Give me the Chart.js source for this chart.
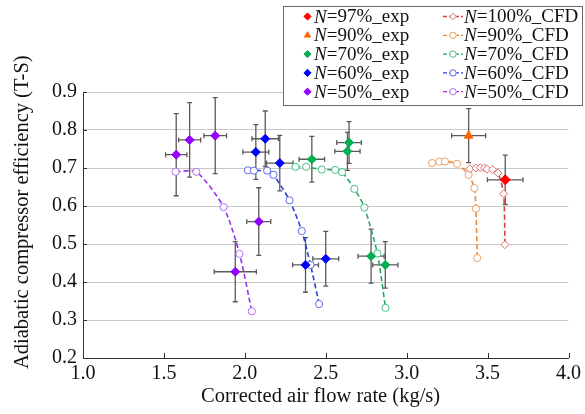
<!DOCTYPE html>
<html>
<head>
<meta charset="utf-8">
<script src="https://cdn.jsdelivr.net/npm/chart.js@4/dist/chart.umd.min.js"></script>
<style>
  html, body { margin: 0; padding: 0; background: #ffffff; }
  #wrap { width: 585px; height: 414px; position: relative; }
</style>
</head>
<body>
<div id="wrap"><canvas id="c" width="585" height="414"></canvas></div>
<script>
// ---------------- data ----------------
const xTickValues = [1.0, 1.5, 2.0, 2.5, 3.0, 3.5, 4.0];
const yTickValues = [0.2, 0.3, 0.4, 0.5, 0.6, 0.7, 0.8, 0.9];

// experimental points (value, with +/- error)
const exp97_x = [3.609];            const exp97_y = [0.669];
const exp97_xerr = [0.11];          const exp97_yerr = [0.065];
const exp90_x = [3.383];            const exp90_y = [0.785];
const exp90_xerr = [0.105];         const exp90_yerr = [0.071];
const exp70_x = [2.414, 2.644, 2.634, 2.780, 2.868];
const exp70_y = [0.723, 0.767, 0.744, 0.468, 0.445];
const exp70_xerr = [0.079, 0.076, 0.078, 0.081, 0.078];
const exp70_yerr = [0.060, 0.055, 0.050, 0.071, 0.061];
const exp60_x = [2.068, 2.126, 2.216, 2.375, 2.500];
const exp60_y = [0.742, 0.777, 0.713, 0.445, 0.461];
const exp60_xerr = [0.080, 0.082, 0.082, 0.080, 0.080];
const exp60_yerr = [0.072, 0.073, 0.073, 0.072, 0.072];
const exp50_x = [1.576, 1.659, 1.817, 2.086, 1.941];
const exp50_y = [0.735, 0.774, 0.785, 0.559, 0.427];
const exp50_xerr = [0.066, 0.068, 0.070, 0.074, 0.130];
const exp50_yerr = [0.108, 0.098, 0.100, 0.089, 0.079];

// CFD lines
const cfd100_x = [3.391, 3.428, 3.455, 3.481, 3.496, 3.531, 3.564, 3.599, 3.607];
const cfd100_y = [0.698, 0.700, 0.701, 0.700, 0.697, 0.696, 0.687, 0.632, 0.498];
const cfd90_x = [3.157, 3.202, 3.237, 3.311, 3.383, 3.418, 3.428, 3.436];
const cfd90_y = [0.713, 0.717, 0.717, 0.711, 0.682, 0.647, 0.593, 0.463];
const cfd70_x = [2.313, 2.379, 2.475, 2.558, 2.601, 2.677, 2.739, 2.819, 2.869];
const cfd70_y = [0.703, 0.703, 0.696, 0.695, 0.689, 0.645, 0.596, 0.475, 0.332];
const cfd60_x = [2.019, 2.056, 2.138, 2.177, 2.276, 2.352, 2.406, 2.459];
const cfd60_y = [0.694, 0.693, 0.693, 0.682, 0.615, 0.534, 0.445, 0.342];
const cfd50_x = [1.572, 1.700, 1.869, 1.967, 2.043];
const cfd50_y = [0.690, 0.690, 0.597, 0.474, 0.323];

const xTitle = 'Corrected air flow rate (kg/s)  ';
const yTitle = '     Adiabatic compressor efficiency (T-S)';

// ---------------- helpers ----------------
const FONT = "'Liberation Serif', 'Times New Roman', serif";
function pts(xs, ys) { return xs.map((x, i) => ({ x: x, y: ys[i] })); }

function expSet(label, xs, ys, xe, ye, color, style, r) {
  return {
    type: 'scatter', label: label, data: pts(xs, ys), errX: xe, errY: ye,
    pointStyle: style, pointRadius: r, pointHoverRadius: r,
    backgroundColor: color, borderColor: color, borderWidth: 1,
    showLine: false, order: 0, legendCol: 0
  };
}
function cfdSet(label, xs, ys, lineColor, ptColor, style, r) {
  return {
    type: 'line', label: label, data: pts(xs, ys),
    borderColor: lineColor, borderWidth: 1.6, borderDash: [5, 3],
    tension: 0.25, fill: false,
    pointStyle: style, pointRadius: r, pointHoverRadius: r,
    pointBackgroundColor: '#ffffff', pointBorderColor: ptColor, pointBorderWidth: 1,
    order: 1, legendCol: 1
  };
}

const datasets = [
  expSet('N=97%_exp', exp97_x, exp97_y, exp97_xerr, exp97_yerr, '#ff0000', 'rectRot', 5),
  expSet('N=90%_exp', exp90_x, exp90_y, exp90_xerr, exp90_yerr, '#ff6600', 'triangle', 5),
  expSet('N=70%_exp', exp70_x, exp70_y, exp70_xerr, exp70_yerr, '#00b050', 'rectRot', 4.5),
  expSet('N=60%_exp', exp60_x, exp60_y, exp60_xerr, exp60_yerr, '#0000ff', 'rectRot', 4.5),
  expSet('N=50%_exp', exp50_x, exp50_y, exp50_xerr, exp50_yerr, '#9400ff', 'rectRot', 4.5),
  cfdSet('N=100%_CFD', cfd100_x, cfd100_y, '#d83c3c', '#e07070', 'rectRot', 4),
  cfdSet('N=90%_CFD', cfd90_x, cfd90_y, '#e8883a', '#f0a060', 'circle', 3.6),
  cfdSet('N=70%_CFD', cfd70_x, cfd70_y, '#22aa60', '#45c083', 'circle', 3.6),
  cfdSet('N=60%_CFD', cfd60_x, cfd60_y, '#2a40d8', '#5a6ae6', 'circle', 3.6),
  cfdSet('N=50%_CFD', cfd50_x, cfd50_y, '#9a30e8', '#b070f0', 'circle', 3.6)
];

// error bars drawn through the chart scales
const errorBars = {
  id: 'errorBars',
  beforeDatasetsDraw(chart) {
    const ctx = chart.ctx, xs = chart.scales.x, ys = chart.scales.y;
    ctx.save();
    ctx.strokeStyle = '#5a5a5a';
    ctx.lineWidth = 1.3;
    const cap = 2.5;
    chart.data.datasets.forEach(ds => {
      if (!ds.errY) return;
      ds.data.forEach((p, i) => {
        const px = xs.getPixelForValue(p.x), py = ys.getPixelForValue(p.y);
        const x0 = xs.getPixelForValue(p.x - ds.errX[i]), x1 = xs.getPixelForValue(p.x + ds.errX[i]);
        const y0 = ys.getPixelForValue(p.y - ds.errY[i]), y1 = ys.getPixelForValue(p.y + ds.errY[i]);
        ctx.beginPath();
        ctx.moveTo(x0, py); ctx.lineTo(x1, py);
        ctx.moveTo(x0, py - cap); ctx.lineTo(x0, py + cap);
        ctx.moveTo(x1, py - cap); ctx.lineTo(x1, py + cap);
        ctx.moveTo(px, y0); ctx.lineTo(px, y1);
        ctx.moveTo(px - cap, y0); ctx.lineTo(px + cap, y0);
        ctx.moveTo(px - cap, y1); ctx.lineTo(px + cap, y1);
        ctx.stroke();
      });
    });
    ctx.restore();
  }
};

// inward tick marks on both axes
const innerTicks = {
  id: 'innerTicks',
  afterDraw(chart) {
    const ctx = chart.ctx, xs = chart.scales.x, ys = chart.scales.y, a = chart.chartArea;
    ctx.save();
    ctx.strokeStyle = '#333';
    ctx.lineWidth = 1;
    ctx.beginPath();
    xTickValues.forEach(v => {
      const px = Math.round(xs.getPixelForValue(v)) + 0.5;
      ctx.moveTo(px, a.bottom); ctx.lineTo(px, a.bottom - 5);
    });
    yTickValues.forEach(v => {
      const py = Math.round(ys.getPixelForValue(v)) + 0.5;
      ctx.moveTo(a.left, py); ctx.lineTo(a.left + 4, py);
    });
    ctx.stroke();
    ctx.restore();
  }
};

// legend box with italic "N"
const boxLegend = {
  id: 'boxLegend',
  afterDraw(chart) {
    const ctx = chart.ctx;
    ctx.save();
    ctx.strokeStyle = '#6a6a6a';
    ctx.lineWidth = 1;
    ctx.fillStyle = '#ffffff';
    ctx.fillRect(283.5, 6.5, 299, 99);
    ctx.strokeRect(283.5, 6.5, 299, 99);
    const rows = [0, 0];
    chart.data.datasets.forEach(ds => {
      const col = ds.legendCol;
      const y = 16.5 + rows[col] * 18.8;
      rows[col]++;
      let tx;
      if (col === 0) {
        ctx.fillStyle = ds.backgroundColor; ctx.strokeStyle = ds.borderColor;
        Chart.helpers.drawPoint(ctx, { pointStyle: ds.pointStyle, radius: 3.6, rotation: 0, borderWidth: 1 }, 307.5, y);
        tx = 314;
      } else {
        ctx.strokeStyle = ds.borderColor; ctx.lineWidth = 1.3;
        ctx.setLineDash([4, 2]);
        ctx.beginPath(); ctx.moveTo(443, y); ctx.lineTo(463, y); ctx.stroke();
        ctx.setLineDash([]);
        ctx.lineWidth = 1;
        ctx.fillStyle = '#ffffff'; ctx.strokeStyle = ds.pointBorderColor;
        Chart.helpers.drawPoint(ctx, { pointStyle: ds.pointStyle, radius: 3.2, rotation: 0, borderWidth: 1 }, 453, y);
        tx = 464;
      }
      ctx.fillStyle = '#111';
      ctx.textBaseline = 'middle';
      ctx.textAlign = 'left';
      ctx.font = 'italic 19px ' + FONT;
      ctx.fillText(ds.label.charAt(0), tx, y + 1);
      const w = ctx.measureText(ds.label.charAt(0)).width;
      ctx.font = '19px ' + FONT;
      ctx.fillText(ds.label.slice(1), tx + w, y + 1);
    });
    ctx.restore();
  }
};

new Chart(document.getElementById('c'), {
  type: 'scatter',
  data: { datasets: datasets },
  options: {
    responsive: false,
    animation: false,
    events: [],
    layout: { padding: { top: 92, right: 16, left: 0, bottom: 0 } },
    plugins: { legend: { display: false }, tooltip: { enabled: false } },
    scales: {
      x: {
        type: 'linear', min: 1, max: 4,
        afterFit(s) { s.height = 56; },
        afterBuildTicks(s) { s.ticks = xTickValues.map(v => ({ value: v })); },
        grid: { display: false, drawTicks: false },
        border: { display: true, color: '#333', width: 1 },
        ticks: { padding: 4, color: '#111', font: { family: FONT, size: 20 }, maxRotation: 0,
                 callback: v => Number(v).toFixed(1) },
        title: { display: true, text: xTitle, color: '#111', font: { family: FONT, size: 20.5 },
                 padding: { top: 0, bottom: 5 } }
      },
      y: {
        type: 'linear', min: 0.2, max: 0.9,
        afterFit(s) { s.width = 83; },
        afterBuildTicks(s) { s.ticks = yTickValues.map(v => ({ value: v })); },
        grid: { color: '#c8c8c8', lineWidth: 1, drawTicks: false },
        border: { display: true, color: '#333', width: 1 },
        ticks: { padding: 6, color: '#111', font: { family: FONT, size: 20 },
                 callback: v => Number(v).toFixed(1) },
        title: { display: true, text: yTitle, color: '#111', font: { family: FONT, size: 20.5 },
                 padding: { top: 10, bottom: 0 } }
      }
    }
  },
  plugins: [errorBars, innerTicks, boxLegend]
});
</script>
</body>
</html>
